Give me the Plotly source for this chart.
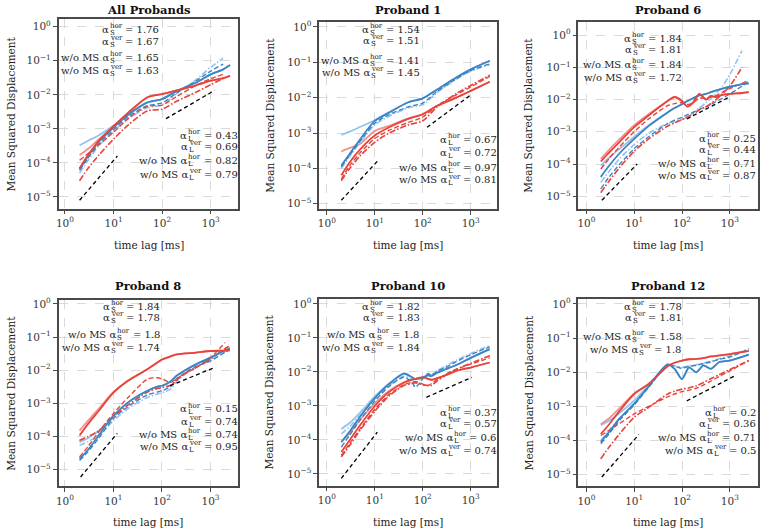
import plotly.graph_objects as go

FONT = "DejaVu Serif"
W, H = 760, 528

# colours
BLUE = "#3b84c4"
BLUE_LIGHT = "#93c3ee"
RED = "#e8433b"
RED_LIGHT = "#f3918a"

# tick labels
x_tickvals = [1, 10, 100, 1000]
x_ticktext = ["10<sup>0</sup>", "10<sup>1</sup>", "10<sup>2</sup>", "10<sup>3</sup>"]
y_tickvals = [1, 1e-1, 1e-2, 1e-3, 1e-4, 1e-5]
y_ticktext = ["10<sup>0</sup>", "10<sup>−1</sup>", "10<sup>−2</sup>",
              "10<sup>−3</sup>", "10<sup>−4</sup>", "10<sup>−5</sup>"]

titles = ["All Probands", "Proband 1", "Proband 6", "Proband 8", "Proband 10", "Proband 12"]

# ---- All Probands ----
all_lag = [2, 3, 5, 10, 20, 50, 100, 200, 500, 1000, 1800, 2500]
all_h_solid = [6.5e-5, 1.6e-4, 4.2e-4, 1.1e-3, 2.6e-3, 6.0e-3, 7.5e-3, 1.3e-2, 2.3e-2, 4.0e-2, 5.6e-2, 7.5e-2]
all_h_light = [3.3e-4, 4.5e-4, 6.5e-4, 1.25e-3, 2.6e-3, 6.0e-3, 7.5e-3, 1.3e-2, 2.3e-2, 4.0e-2, 5.6e-2, 7.5e-2]
all_h_dash = [6e-5, 1.4e-4, 3.6e-4, 9.5e-4, 2.3e-3, 4.8e-3, 5.8e-3, 1.15e-2, 2.6e-2, 5.0e-2, 8.0e-2, None]
all_h_dashdot = [5e-5, 1.2e-4, 3.2e-4, 8.5e-4, 2.0e-3, 4.2e-3, 5.0e-3, 1.1e-2, 2.8e-2, 6.5e-2, 1.2e-1, None]
all_v_solid = [7e-5, 1.7e-4, 4.5e-4, 1.2e-3, 3.0e-3, 8.5e-3, 1.05e-2, 1.35e-2, 1.9e-2, 2.6e-2, 3.1e-2, 3.6e-2]
all_v_light = [1.7e-4, 2.6e-4, 5e-4, 1.15e-3, 2.9e-3, 8.5e-3, 1.05e-2, 1.35e-2, 1.9e-2, 2.6e-2, 3.1e-2, 3.6e-2]
all_v_dash = [1.2e-4, 1.9e-4, 3.4e-4, 8e-4, 2.0e-3, 4.6e-3, 5.0e-3, 9.0e-3, 1.9e-2, 3.0e-2, 4.0e-2, None]
all_v_dashdot = [3e-5, 7e-5, 1.7e-4, 5e-4, 1.3e-3, 3.4e-3, 3.8e-3, 6.5e-3, 1.2e-2, 2.0e-2, 3.0e-2, None]
all_ref_short_x, all_ref_short_y = [2, 12], [8e-6, 1.6e-4]
all_ref_long_x, all_ref_long_y = [120, 1200], [2e-3, 1.35e-2]
all_alpha = ["1.76", "1.67", "1.65", "1.63", "0.43", "0.69", "0.82", "0.79"]

# ---- Proband 1 ----
p1_lag = [2, 3, 5, 10, 20, 50, 100, 200, 500, 1000, 2500]
p1_h_solid = [1.2e-4, 2.6e-4, 6.8e-4, 2.2e-3, 3.8e-3, 7.4e-3, 9.5e-3, 1.7e-2, 3.7e-2, 6.3e-2, 1.1e-1]
p1_h_light = [8.9e-4, 1.1e-3, 1.5e-3, 2.3e-3, 3.9e-3, 7.4e-3, 9.5e-3, 1.7e-2, 3.7e-2, 6.3e-2, 1.1e-1]
p1_h_dash = [1.1e-4, 2.4e-4, 6e-4, 1.9e-3, 3.3e-3, 5.5e-3, 7e-3, 1.5e-2, 3.4e-2, 5.8e-2, 9e-2]
p1_h_dashdot = [1e-4, 2.2e-4, 5.5e-4, 1.7e-3, 3.0e-3, 5.2e-3, 6.3e-3, 1.4e-2, 3.3e-2, 5.6e-2, 8.5e-2]
p1_v_solid = [6.4e-5, 1.5e-4, 3.5e-4, 8.5e-4, 1.45e-3, 2.5e-3, 3.4e-3, 5.9e-3, 1.0e-2, 1.55e-2, 2.8e-2]
p1_v_light = [3e-4, 3.8e-4, 5e-4, 1.15e-3, 1.6e-3, 2.6e-3, 3.4e-3, 5.9e-3, 1.0e-2, 1.55e-2, 2.8e-2]
p1_v_dash = [5e-5, 1.2e-4, 2.8e-4, 7e-4, 1.2e-3, 2.0e-3, 2.8e-3, 6e-3, 1.2e-2, 2.0e-2, 4.0e-2]
p1_v_dashdot = [4.5e-5, 1.0e-4, 2.3e-4, 5.5e-4, 1.0e-3, 1.7e-3, 2.2e-3, 5.5e-3, 1.3e-2, 2.2e-2, 4.3e-2]
p1_ref_short_x, p1_ref_short_y = [2, 11.8], [1.26e-5, 1.7e-4]
p1_ref_long_x, p1_ref_long_y = [123, 1050], [1.45e-3, 1.25e-2]
p1_alpha = ["1.54", "1.51", "1.41", "1.45", "0.67", "0.72", "0.97", "0.81"]

# ---- Proband 6 ----
p6_lag = [2, 3, 5, 10, 20, 50, 70, 100, 130, 170, 230, 320, 400, 500, 700, 1000, 1800, 2500]
p6_h_solid = [4e-5, 9e-5, 2.2e-4, 6e-4, 1.5e-3, 4e-3, 5.5e-3, 7.2e-3, 9e-3, 1.1e-2, 1.35e-2, 1.5e-2, 1.7e-2, 1.9e-2, 2.2e-2, 2.5e-2, 3e-2, 3.2e-2]
p6_h_light = [9e-5, 1.6e-4, 3e-4, 7e-4, 1.6e-3, 4e-3, 5.5e-3, 7.2e-3, 9e-3, 1.1e-2, 1.35e-2, 1.5e-2, 1.7e-2, 1.9e-2, 2.2e-2, 2.5e-2, 3e-2, 3.2e-2]
p6_h_dash = [1.7e-5, 4e-5, 1e-4, 3e-4, 7e-4, 1.8e-3, 2.3e-3, 2.8e-3, 3.4e-3, 4e-3, 5e-3, 6e-3, 7e-3, 8.5e-3, 1.1e-2, 1.5e-2, 2.6e-2, 3.8e-2]
p6_h_dashdot = [2.7e-5, 6e-5, 1.5e-4, 4e-4, 9e-4, 1.8e-3, 2.1e-3, 2.4e-3, 2.8e-3, 4e-3, 5.5e-3, 8e-3, 1.1e-2, 1.5e-2, 2.6e-2, 6e-2, 3.3e-1, None]
p6_v_solid = [1.2e-4, 2.3e-4, 5e-4, 1.4e-3, 3.2e-3, 9e-3, 1.2e-2, 9e-3, 6e-3, 8e-3, 1.5e-2, 1.0e-2, 1.3e-2, 1.2e-2, 1.4e-2, 1.5e-2, 1.6e-2, 1.7e-2]
p6_v_light = [1.45e-4, 2.8e-4, 6e-4, 1.6e-3, 3.5e-3, 9e-3, 1.2e-2, 9e-3, 6e-3, 8e-3, 1.5e-2, 1.0e-2, 1.3e-2, 1.2e-2, 1.4e-2, 1.5e-2, 1.6e-2, 1.7e-2]
p6_v_dash = [7e-5, 1.5e-4, 3.5e-4, 1e-3, 2.5e-3, 6.5e-3, 7.5e-3, 8e-3, 7e-3, 8e-3, 1.1e-2, 1.1e-2, 1.2e-2, 1.3e-2, 1.7e-2, 2.2e-2, 3.2e-2, 4e-2]
p6_v_dashdot = [1.3e-5, 3e-5, 8e-5, 2.5e-4, 6e-4, 1.5e-3, 1.9e-3, 2.4e-3, 2.9e-3, 3.5e-3, 4.8e-3, 6e-3, 7.5e-3, 9.5e-3, 1.5e-2, 2.6e-2, 1.0e-1, None]
p6_ref_short_x, p6_ref_short_y = [2.1, 11.5], [7.5e-6, 1.0e-4]
p6_ref_long_x, p6_ref_long_y = [126, 930], [2.5e-3, 1.15e-2]
p6_alpha = ["1.84", "1.81", "1.84", "1.72", "0.25", "0.44", "0.71", "0.87"]

# ---- Proband 8 ----
p8_lag = [2, 3, 5, 10, 20, 50, 80, 100, 150, 200, 300, 500, 1000, 2000, 2500]
p8_h_solid = [2.1e-5, 4e-5, 1.1e-4, 4.3e-4, 1.07e-3, 2.4e-3, 3.2e-3, 3.4e-3, 4.6e-3, 6.8e-3, 1e-2, 1.5e-2, 2.4e-2, 4e-2, 4.6e-2]
p8_h_light = [6.7e-5, 9e-5, 1.5e-4, 3.8e-4, 1.07e-3, 2.4e-3, 3.2e-3, 3.4e-3, 4.6e-3, 6.8e-3, 1e-2, 1.5e-2, 2.4e-2, 4e-2, 4.6e-2]
p8_h_dash = [1.9e-5, 3.5e-5, 9e-5, 3.5e-4, 8e-4, 1.8e-3, 2.2e-3, 2.4e-3, 3.2e-3, 5.5e-3, 8.5e-3, 1.3e-2, 1.9e-2, 3.5e-2, 4.3e-2]
p8_h_dashdot = [5.4e-5, 7e-5, 1.1e-4, 3e-4, 7e-4, 1.5e-3, 1.9e-3, 2.1e-3, 2.7e-3, 4.5e-3, 7.5e-3, 1.2e-2, 2e-2, 4e-2, 5e-2]
p8_v_solid = [1.07e-4, 2.4e-4, 6e-4, 2.1e-3, 4.8e-3, 1.07e-2, 1.7e-2, 2.1e-2, 2.6e-2, 3.0e-2, 3.2e-2, 3.4e-2, 3.8e-2, 3.9e-2, 4e-2]
p8_v_light = [1.5e-4, 3e-4, 7e-4, 2.2e-3, 4.9e-3, 1.07e-2, 1.7e-2, 2.1e-2, 2.6e-2, 3.0e-2, 3.2e-2, 3.4e-2, 3.8e-2, 3.9e-2, 4e-2]
p8_v_dash = [2.4e-5, 5e-5, 1.4e-4, 5e-4, 1.5e-3, 5.4e-3, 5.9e-3, 5.5e-3, 4.3e-3, 5.5e-3, 8e-3, 1.2e-2, 2.4e-2, 6.8e-2, None]
p8_v_dashdot = [7.6e-5, 1e-4, 1.5e-4, 4e-4, 9e-4, 2.2e-3, 2.8e-3, 3e-3, 3.5e-3, 5e-3, 8e-3, 1.2e-2, 2.2e-2, 4.5e-2, 5.5e-2]
p8_ref_short_x, p8_ref_short_y = [2.1, 12], [6e-6, 1.25e-4]
p8_ref_long_x, p8_ref_long_y = [147, 1200], [3.4e-3, 1.2e-2]
p8_alpha = ["1.84", "1.78", "1.8", "1.74", "0.15", "0.74", "0.74", "0.95"]

# ---- Proband 10 ----
p10_lag = [2, 3, 5, 10, 20, 40, 60, 70, 100, 130, 150, 200, 300, 500, 1000, 2500]
p10_h_solid = [8.7e-5, 1.8e-4, 5e-4, 1.7e-3, 4.5e-3, 9e-3, 7e-3, 6.2e-3, 6.9e-3, 8e-3, 7.5e-3, 9.5e-3, 1.2e-2, 1.6e-2, 2.6e-2, 4.7e-2]
p10_h_light = [2.1e-4, 3.2e-4, 6.5e-4, 1.9e-3, 4.6e-3, 9e-3, 7e-3, 6.2e-3, 6.9e-3, 8e-3, 7.5e-3, 9.5e-3, 1.2e-2, 1.6e-2, 2.6e-2, 4.7e-2]
p10_h_dash = [6.2e-5, 1.4e-4, 4e-4, 1.4e-3, 3.8e-3, 7e-3, 5e-3, 3.5e-3, 6.3e-3, 9e-3, 8e-3, 1.05e-2, 1.35e-2, 2e-2, 3.2e-2, 5.5e-2]
p10_h_dashdot = [1.5e-4, 2.5e-4, 5.5e-4, 1.6e-3, 4e-3, 7.5e-3, 6e-3, 5e-3, 6.5e-3, 8.5e-3, 8e-3, 1.1e-2, 1.5e-2, 2.2e-2, 3.5e-2, 6e-2]
p10_v_solid = [4.4e-5, 1.0e-4, 2.8e-4, 1.0e-3, 2.6e-3, 4.8e-3, 6.0e-3, 6.3e-3, 6.9e-3, 6.3e-3, 5.9e-3, 6.6e-3, 8e-3, 1.07e-2, 1.35e-2, 1.9e-2]
p10_v_light = [8.7e-5, 1.6e-4, 4e-4, 1.2e-3, 2.8e-3, 5e-3, 6.0e-3, 6.3e-3, 6.9e-3, 6.3e-3, 5.9e-3, 6.6e-3, 8e-3, 1.07e-2, 1.35e-2, 1.9e-2]
p10_v_dash = [3.5e-5, 8e-5, 2.2e-4, 8e-4, 2.2e-3, 4.2e-3, 5e-3, 5.3e-3, 4.4e-3, 4e-3, 4.5e-3, 6e-3, 8.5e-3, 1.2e-2, 1.7e-2, 2.6e-2]
p10_v_dashdot = [3.2e-5, 7e-5, 2e-4, 7e-4, 2e-3, 4e-3, 4.6e-3, 4.8e-3, 4.2e-3, 4e-3, 4e-3, 5.5e-3, 8e-3, 1.2e-2, 1.8e-2, 3e-2]
p10_ref_short_x, p10_ref_short_y = [2, 11.3], [7.4e-6, 1.7e-4]
p10_ref_long_x, p10_ref_long_y = [119, 1050], [1.8e-3, 6.9e-3]
p10_alpha = ["1.82", "1.83", "1.8", "1.84", "0.37", "0.57", "0.6", "0.74"]

# ---- Proband 12 ----
p12_lag = [2, 3, 5, 10, 20, 50, 70, 100, 140, 200, 280, 400, 600, 1000, 2500]
p12_h_solid = [9e-5, 1.8e-4, 4.5e-4, 1.2e-3, 3.8e-3, 1.7e-2, 1.25e-2, 6.3e-3, 1.38e-2, 1.0e-2, 1.6e-2, 1.25e-2, 2e-2, 2.2e-2, 3.3e-2]
p12_h_light = [2.8e-4, 3.8e-4, 6.5e-4, 1.5e-3, 4.2e-3, 1.7e-2, 1.25e-2, 6.3e-3, 1.38e-2, 1.0e-2, 1.6e-2, 1.25e-2, 2e-2, 2.2e-2, 3.3e-2]
p12_h_dash = [8e-5, 1.6e-4, 4e-4, 1.1e-3, 3.6e-3, 1.6e-2, 1.5e-2, 1.3e-2, 1.5e-2, 1.6e-2, 1.8e-2, 2e-2, 2.4e-2, 2.8e-2, 4.8e-2]
p12_h_dashdot = [1e-4, 2e-4, 4.5e-4, 1.2e-3, 3.9e-3, 1.6e-2, 1.55e-2, 1.4e-2, 1.55e-2, 1.65e-2, 1.85e-2, 2.1e-2, 2.5e-2, 3e-2, 5e-2]
p12_v_solid = [1.55e-4, 3e-4, 7.5e-4, 2.3e-3, 4.5e-3, 1.5e-2, 1.9e-2, 2.2e-2, 2.4e-2, 2.45e-2, 2.6e-2, 2.9e-2, 3.1e-2, 3.4e-2, 4.2e-2]
p12_v_light = [3e-4, 4.5e-4, 9e-4, 2.4e-3, 4.6e-3, 1.5e-2, 1.9e-2, 2.2e-2, 2.4e-2, 2.45e-2, 2.6e-2, 2.9e-2, 3.1e-2, 3.4e-2, 4.2e-2]
p12_v_dash = [1.4e-4, 2e-4, 3.2e-4, 6e-4, 1e-3, 1.9e-3, 2.3e-3, 2.7e-3, 3e-3, 3.4e-3, 4.2e-3, 5.5e-3, 7.5e-3, 1.1e-2, 2.2e-2]
p12_v_dashdot = [2.9e-5, 6.5e-5, 1.6e-4, 4.8e-4, 9.3e-4, 2.3e-3, 2.8e-3, 3.2e-3, 3.5e-3, 4e-3, 5e-3, 6.5e-3, 8.5e-3, 1.2e-2, 2.2e-2]
p12_ref_short_x, p12_ref_short_y = [2.1, 12.5], [8.5e-6, 1.5e-4]
p12_ref_long_x, p12_ref_long_y = [126, 1260], [1.45e-3, 7.8e-3]
p12_alpha = ["1.78", "1.81", "1.58", "1.8", "0.2", "0.36", "0.71", "0.5"]

PANELS = [
    dict(lag=all_lag, h=[all_h_solid, all_h_light, all_h_dash, all_h_dashdot],
         v=[all_v_solid, all_v_light, all_v_dash, all_v_dashdot],
         ref=[(all_ref_short_x, all_ref_short_y), (all_ref_long_x, all_ref_long_y)], alpha=all_alpha),
    dict(lag=p1_lag, h=[p1_h_solid, p1_h_light, p1_h_dash, p1_h_dashdot],
         v=[p1_v_solid, p1_v_light, p1_v_dash, p1_v_dashdot],
         ref=[(p1_ref_short_x, p1_ref_short_y), (p1_ref_long_x, p1_ref_long_y)], alpha=p1_alpha),
    dict(lag=p6_lag, h=[p6_h_solid, p6_h_light, p6_h_dash, p6_h_dashdot],
         v=[p6_v_solid, p6_v_light, p6_v_dash, p6_v_dashdot],
         ref=[(p6_ref_short_x, p6_ref_short_y), (p6_ref_long_x, p6_ref_long_y)], alpha=p6_alpha),
    dict(lag=p8_lag, h=[p8_h_solid, p8_h_light, p8_h_dash, p8_h_dashdot],
         v=[p8_v_solid, p8_v_light, p8_v_dash, p8_v_dashdot],
         ref=[(p8_ref_short_x, p8_ref_short_y), (p8_ref_long_x, p8_ref_long_y)], alpha=p8_alpha),
    dict(lag=p10_lag, h=[p10_h_solid, p10_h_light, p10_h_dash, p10_h_dashdot],
         v=[p10_v_solid, p10_v_light, p10_v_dash, p10_v_dashdot],
         ref=[(p10_ref_short_x, p10_ref_short_y), (p10_ref_long_x, p10_ref_long_y)], alpha=p10_alpha),
    dict(lag=p12_lag, h=[p12_h_solid, p12_h_light, p12_h_dash, p12_h_dashdot],
         v=[p12_v_solid, p12_v_light, p12_v_dash, p12_v_dashdot],
         ref=[(p12_ref_short_x, p12_ref_short_y), (p12_ref_long_x, p12_ref_long_y)], alpha=p12_alpha),
]

# frame boxes in pixels (left, right, top, bottom) and log10 axis ranges
FRAMES = [(56, 237, 15.7, 206.7), (318.3, 497.3, 19, 207.3), (579.3, 760, 19, 206.7),
          (56, 236.7, 298.3, 486), (318.3, 497.3, 297.7, 485.3), (579.3, 760, 297.7, 486)]
XRANGES = [[-0.13, 3.57], [-0.16, 3.55], [-0.166, 3.59], [-0.13, 3.57], [-0.16, 3.55], [-0.166, 3.59]]
YRANGES = [[-5.34, 0.24], [-5.15, 0.14], [-5.38, 0.41], [-5.5, 0.13], [-5.34, 0.146], [-5.34, 0.146]]
# annotation blocks: (right edge px, [line centres px]) for the short and long time exponents
TOP_TXT = [(156, [27, 38.5, 55, 68]), (418, [26.5, 38, 58, 70]), (682, [36, 47, 62, 75]),
           (157, [305, 316.5, 333, 346]), (418, [305, 316.5, 333.3, 346.7]), (681.7, [305, 316.7, 335, 348.3])]
BOT_TXT = [(235, [133, 144, 158, 172]), (496, [137, 150, 165, 178]), (757, [136, 147, 161, 173]),
           (235, [408.3, 421, 434, 446]), (496, [411.7, 423.3, 436.7, 450]), (757, [411.7, 423.3, 436.7, 450])]
TITLE_Y = [7, 7, 7, 285, 285, 285]
XTITLE_Y = [243, 243, 243, 522, 522, 522]
YTITLE_X = [8, 268, 529, 8, 268, 529]

FS = 10     # text size
SFS = 7     # script size
CW = {'0': .636, '1': .636, '2': .636, '3': .636, '4': .636, '5': .636, '6': .636, '7': .636,
      '8': .636, '9': .636, '.': .318, '=': .838, ' ': .318, 'h': .644, 'o': .602, 'r': .478,
      'v': .592, 'e': .592, 'S': .685, 'L': .637}


def twidth(s, size):
    return sum(CW.get(c, 0.6) for c in s) * size


def px(x):
    return x / W


def py(y):
    return 1 - y / H


def alpha_line(fig, xr, y, prefix, sup, sub, value):
    val = "= " + value
    w_val = twidth(val, FS)
    w_scr = max(twidth(sup, SFS), twidth(sub, SFS))
    x_val = xr - w_val
    x_scr = x_val - 3.5 - w_scr
    common = dict(xref="paper", yref="paper", showarrow=False, yanchor="middle", borderpad=0)
    main_font = dict(family=FONT, size=FS, color="#222")
    small_font = dict(family=FONT, size=SFS, color="#222")
    fig.add_annotation(x=px(x_scr + 1), y=py(y), text=prefix + "α", xanchor="right", font=main_font, **common)
    fig.add_annotation(x=px(x_scr), y=py(y - 3.5), text=sup, xanchor="left", font=small_font, **common)
    fig.add_annotation(x=px(x_scr), y=py(y + 3.5), text=sub, xanchor="left", font=small_font, **common)
    fig.add_annotation(x=px(x_val), y=py(y), text=val, xanchor="left", font=main_font, **common)


fig = go.Figure()
layout = {}

for i, p in enumerate(PANELS):
    n = "" if i == 0 else str(i + 1)
    xa, ya = "x" + n, "y" + n
    l, r, t, b = FRAMES[i]
    axis_common = dict(type="log", showline=True, mirror=True, linecolor="#4a4a4a", linewidth=1.5,
                       ticks="outside", ticklen=4, tickwidth=1, tickcolor="#4a4a4a",
                       showgrid=True, gridcolor="#dadada", griddash="dash", gridwidth=0.8,
                       zeroline=False, tickfont=dict(family=FONT, size=10.5, color="#333"))
    layout["xaxis" + n] = dict(domain=[px(l), px(r)], range=XRANGES[i], tickvals=x_tickvals,
                               ticktext=x_ticktext, anchor=ya, **axis_common)
    layout["yaxis" + n] = dict(domain=[py(b), py(t)], range=YRANGES[i], tickvals=y_tickvals,
                               ticktext=y_ticktext, anchor=xa, **axis_common)

    h_solid, h_light, h_dash, h_dashdot = p["h"]
    v_solid, v_light, v_dash, v_dashdot = p["v"]
    series = [
        (h_light, BLUE_LIGHT, "solid", 1.8),
        (v_light, RED_LIGHT, "solid", 1.8),
        (h_dashdot, BLUE_LIGHT, "6px,2px,1.5px,2px", 1.6),
        (v_dashdot, RED_LIGHT, "6px,2px,1.5px,2px", 1.6),
        (h_dash, BLUE, "5px,2.5px", 1.4),
        (v_dash, RED, "5px,2.5px", 1.4),
        (v_dashdot, RED, "6px,2px,1.5px,2px", 1.4),
        (h_solid, BLUE, "solid", 1.8),
        (v_solid, RED, "solid", 1.8),
    ]
    for ys, col, dash, lw in series:
        fig.add_trace(go.Scatter(x=p["lag"], y=ys, mode="lines", xaxis=xa, yaxis=ya,
                                 line=dict(color=col, dash=dash, width=lw, shape="spline", smoothing=0.7),
                                 connectgaps=False, showlegend=False, hoverinfo="skip"))
    for rx, ry in p["ref"]:
        fig.add_trace(go.Scatter(x=rx, y=ry, mode="lines", xaxis=xa, yaxis=ya,
                                 line=dict(color="black", dash="4px,3px", width=1.3),
                                 showlegend=False, hoverinfo="skip"))

    # titles
    cx = (l + r) / 2
    fig.add_annotation(x=px(cx), y=py(TITLE_Y[i]), xref="paper", yref="paper", showarrow=False,
                       text="<b>" + titles[i] + "</b>", xanchor="center", yanchor="middle",
                       font=dict(family=FONT, size=11.5, color="#111"))
    fig.add_annotation(x=px(cx), y=py(XTITLE_Y[i]), xref="paper", yref="paper", showarrow=False,
                       text="time lag [ms]", xanchor="center", yanchor="middle",
                       font=dict(family=FONT, size=10.5, color="#222"))
    fig.add_annotation(x=px(YTITLE_X[i]), y=py((t + b) / 2), xref="paper", yref="paper", showarrow=False,
                       text="Mean Squared Displacement", textangle=-90, xanchor="center", yanchor="middle",
                       font=dict(family=FONT, size=10.5, color="#222"))

    # exponent annotations
    a = p["alpha"]
    xr, ys = TOP_TXT[i]
    alpha_line(fig, xr, ys[0], "", "hor", "S", a[0])
    alpha_line(fig, xr, ys[1], "", "ver", "S", a[1])
    alpha_line(fig, xr, ys[2], "w/o MS ", "hor", "S", a[2])
    alpha_line(fig, xr, ys[3], "w/o MS ", "ver", "S", a[3])
    xr, ys = BOT_TXT[i]
    alpha_line(fig, xr, ys[0], "", "hor", "L", a[4])
    alpha_line(fig, xr, ys[1], "", "ver", "L", a[5])
    alpha_line(fig, xr, ys[2], "w/o MS ", "hor", "L", a[6])
    alpha_line(fig, xr, ys[3], "w/o MS ", "ver", "L", a[7])

fig.update_layout(width=W, height=H, margin=dict(l=0, r=0, t=0, b=0),
                  paper_bgcolor="white", plot_bgcolor="white", showlegend=False, **layout)

# the page body has a default margin; drop it so the figure sits at the window corner
fig.write_html("out.html", config={"displayModeBar": False},
               post_script="document.body.style.margin='0px';")
